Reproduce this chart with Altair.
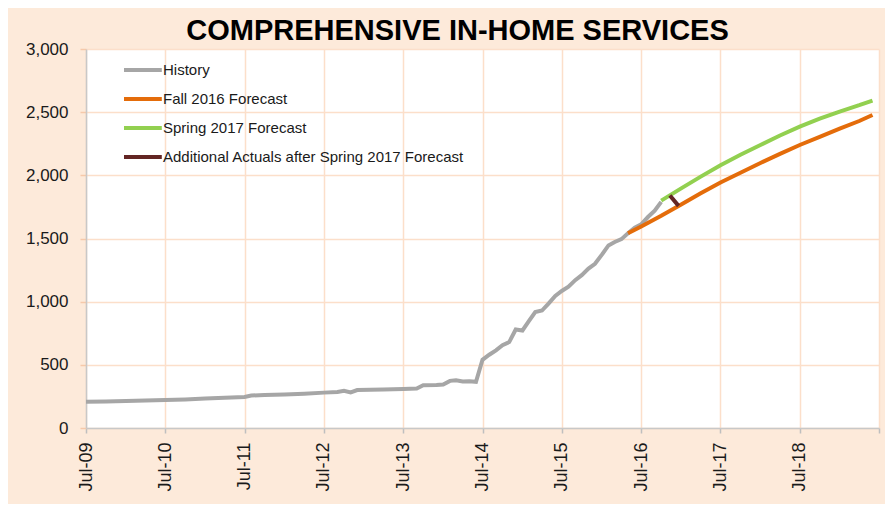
import altair as alt
import pandas as pd

# ---- data ----
hist_months = ["2009-07", "2009-10", "2010-01", "2010-04", "2010-07", "2010-10", "2011-01",
               "2011-04", "2011-07", "2011-08", "2011-10", "2012-01", "2012-04", "2012-07",
               "2012-09", "2012-10", "2012-11", "2012-12", "2013-04", "2013-07", "2013-09",
               "2013-10", "2013-12", "2014-01", "2014-02", "2014-03", "2014-04", "2014-05",
               "2014-06", "2014-07", "2014-08", "2014-09", "2014-10", "2014-11", "2014-12",
               "2015-01", "2015-02", "2015-03", "2015-04", "2015-05", "2015-06", "2015-07",
               "2015-08", "2015-09", "2015-10", "2015-11", "2015-12", "2016-01", "2016-02",
               "2016-03", "2016-04", "2016-05", "2016-06", "2016-07", "2016-08", "2016-09",
               "2016-10"]
hist_values = [208, 210, 213, 218, 222, 226, 233,
               240, 246, 257, 262, 266, 272, 280,
               285, 295, 282, 300, 305, 309, 313,
               338, 340, 344, 373, 378, 368, 370,
               366, 540, 580, 615, 655, 680, 780,
               772, 850, 918, 930, 985, 1045, 1085,
               1118, 1170, 1210, 1262, 1300, 1370, 1445,
               1472, 1495, 1541, 1585, 1612, 1670, 1720,
               1790]

fall_months = ["2016-05", "2016-07", "2016-10", "2017-01", "2017-04", "2017-07", "2017-10",
               "2018-01", "2018-04", "2018-07", "2018-10", "2019-01", "2019-04", "2019-06"]
fall_values = [1541, 1595, 1680, 1770, 1858, 1943, 2020,
               2098, 2170, 2240, 2305, 2370, 2430, 2478]

spring_months = ["2016-10", "2017-01", "2017-04", "2017-07", "2017-10", "2018-01", "2018-04",
                 "2018-07", "2018-10", "2019-01", "2019-04", "2019-06"]
spring_values = [1800, 1897, 1990, 2080, 2163, 2240, 2315,
                 2385, 2448, 2505, 2555, 2592]

extra_dates = ["2016-11-10", "2016-12-20"]
extra_values = [1840, 1758]

series_names = ["History", "Fall 2016 Forecast", "Spring 2017 Forecast",
                "Additional Actuals after Spring 2017 Forecast"]
series_colors = ["#A6A6A6", "#E46C0A", "#92D050", "#632523"]

y_ticks = [0, 500, 1000, 1500, 2000, 2500, 3000]
tick_years = list(range(2009, 2020))


def to_date(m):
    return m + "-01" if len(m) == 7 else m


rows = []
for name, dates, vals in [
    (series_names[0], hist_months, hist_values),
    (series_names[1], fall_months, fall_values),
    (series_names[2], spring_months, spring_values),
    (series_names[3], extra_dates, extra_values),
]:
    for d, v in zip(dates, vals):
        rows.append({"date": to_date(d), "value": v, "series": name})
df = pd.DataFrame(rows)

x_ticks = [alt.DateTime(year=y, month=7, date=1, utc=True) for y in tick_years]

FONT = "Liberation Sans"
GRID = "#FCDFCA"

chart = alt.Chart(df).mark_line(strokeWidth=4).encode(
    x=alt.X(
        "date:T",
        scale=alt.Scale(type="utc", domain=[x_ticks[0], x_ticks[-1]]),
        axis=alt.Axis(
            values=x_ticks,
            labelExpr="utcyear(datum.value) >= 2019 ? '' : utcFormat(datum.value, '%b-%y')",
            title=None,
            labelAngle=270,
            labelAlign="right",
            labelBaseline="middle",
            labelFontSize=18,
            labelFont=FONT,
            labelColor="#1a1a1a",
            labelPadding=9,
            tickSize=5,
            tickColor="#BFBFBF",
            tickWidth=1.5,
            domainColor="#C8C8C8",
            domainWidth=1.5,
            gridColor=GRID,
            gridWidth=1.5,
            labelOverlap=False,
        ),
    ),
    y=alt.Y(
        "value:Q",
        scale=alt.Scale(domain=[0, 3000], nice=False),
        axis=alt.Axis(
            values=y_ticks,
            format=",.0f",
            title=None,
            labelFontSize=17,
            labelFont=FONT,
            labelColor="#1a1a1a",
            labelPadding=12,
            tickSize=6,
            tickColor="#F6C9AA",
            tickWidth=1.5,
            domainColor="#C8C8C8",
            domainWidth=1.5,
            gridColor=GRID,
            gridWidth=1.5,
        ),
    ),
    color=alt.Color(
        "series:N",
        scale=alt.Scale(domain=series_names, range=series_colors),
        legend=alt.Legend(
            title=None,
            orient="none",
            legendX=60,
            legendY=13,
            symbolType="M-5,0H1.3",
            symbolSize=144,
            symbolStrokeWidth=4,
            labelFontSize=15,
            labelFont=FONT,
            labelColor="#1a1a1a",
            labelOffset=1,
            rowPadding=13,
            padding=0,
            labelLimit=400,
        ),
    ),
).properties(
    width=793,
    height=379,
    autosize=alt.AutoSizeParams(type="none"),
    padding={"left": 78, "top": 41, "right": 6, "bottom": 76},
    background="#FDEADA",
    title=alt.Title(
        "COMPREHENSIVE IN-HOME SERVICES",
        font=FONT,
        fontSize=29,
        fontWeight="bold",
        color="black",
        anchor="middle",
        frame="group",
        dx=-25,
        dy=31,
        baseline="alphabetic",
        offset=2,
    ),
).configure_view(fill="white", stroke="transparent")

chart.save("out.html", embed_options={"renderer": "svg", "actions": False})
